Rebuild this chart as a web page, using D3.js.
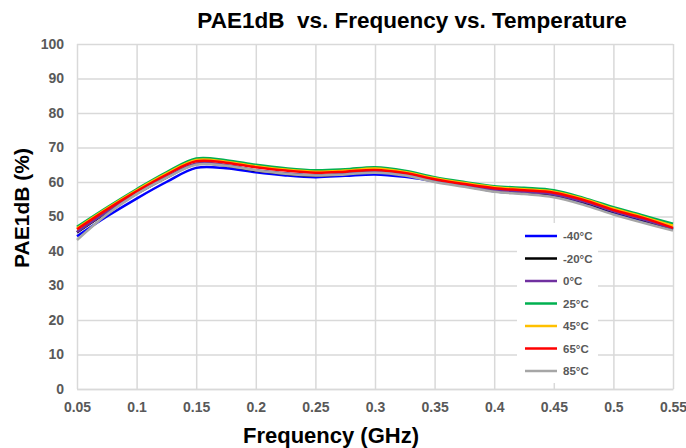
<!DOCTYPE html>
<html>
<head>
<meta charset="utf-8">
<script src="https://cdn.jsdelivr.net/npm/d3@7"></script>
<style>
  html, body { margin: 0; padding: 0; background: #fff; }
  svg { display: block; font-family: Arial, "Liberation Sans", sans-serif; }
</style>
</head>
<body>
<svg id="chart" width="686" height="448"></svg>
<script>
// Frequency points (GHz)
const freq = [0.05, 0.075, 0.1, 0.125, 0.15, 0.175, 0.2, 0.225, 0.25, 0.275, 0.3,
              0.325, 0.35, 0.375, 0.4, 0.425, 0.45, 0.475, 0.5, 0.525, 0.55];

// PAE at 1 dB compression (%) per temperature
const paeM40 = [44.3, 50.0, 55.2, 60.0, 64.1, 64.0, 62.8, 61.9, 61.4, 61.8, 62.2,
                61.5, 60.2, 58.8, 57.3, 56.7, 56.0, 53.9, 51.0, 48.7, 46.2];
const paeM20 = [45.4, 51.2, 56.6, 61.3, 65.2, 64.8, 63.3, 62.4, 61.9, 62.3, 62.9,
                62.0, 60.3, 58.9, 57.6, 57.0, 56.3, 54.2, 51.4, 49.0, 46.4];
const pae0   = [45.5, 51.3, 56.7, 61.4, 65.3, 64.9, 63.4, 62.5, 62.0, 62.4, 63.0,
                62.1, 60.4, 59.0, 57.7, 57.1, 56.4, 54.3, 51.5, 49.1, 46.5];
const pae25  = [47.0, 52.6, 57.9, 62.8, 66.8, 66.3, 65.0, 64.0, 63.4, 63.7, 64.3,
                63.3, 61.4, 60.0, 58.8, 58.3, 57.6, 55.4, 52.7, 50.3, 47.9];
const pae45  = [46.6, 52.3, 57.6, 62.4, 66.4, 65.9, 64.6, 63.6, 63.0, 63.3, 63.9,
                62.9, 61.1, 59.7, 58.5, 57.9, 57.2, 55.1, 52.3, 49.9, 47.3];
const pae65  = [46.3, 52.0, 57.3, 62.1, 66.0, 65.6, 64.3, 63.3, 62.7, 63.0, 63.5,
                62.6, 60.8, 59.4, 58.2, 57.6, 56.9, 54.8, 51.9, 49.6, 46.7];
const pae85  = [43.2, 50.6, 56.5, 61.2, 65.0, 64.7, 63.4, 62.4, 61.9, 62.2, 62.7,
                61.9, 60.0, 58.6, 57.2, 56.5, 55.6, 53.4, 50.6, 48.2, 45.9];

const seriesNames = ["-40°C", "-20°C", "0°C", "25°C", "45°C", "65°C", "85°C"];
const seriesColors = ["#0000ff", "#000000", "#7030a0", "#00b050", "#ffc000", "#ff0000", "#a6a6a6"];
const seriesValues = [paeM40, paeM20, pae0, pae25, pae45, pae65, pae85];

const xTicks = [0.05, 0.1, 0.15, 0.2, 0.25, 0.3, 0.35, 0.4, 0.45, 0.5, 0.55];
const yTicks = [0, 10, 20, 30, 40, 50, 60, 70, 80, 90, 100];

const svg = d3.select("#chart");
const plot = { left: 77, right: 673, top: 44, bottom: 389 };

const x = d3.scaleLinear().domain([0.05, 0.55]).range([plot.left, plot.right]);
const y = d3.scaleLinear().domain([0, 100]).range([plot.bottom, plot.top]);

const gridColor = "#d9d9d9";
const tickColor = "#595959";

// Gridlines
svg.append("g")
  .attr("transform", `translate(${plot.left},0)`)
  .call(d3.axisLeft(y).tickValues(yTicks).tickSize(-(plot.right - plot.left)).tickFormat(""))
  .call(g => g.select(".domain").remove())
  .call(g => g.selectAll("line").attr("stroke", gridColor).attr("stroke-width", 1.5));

svg.append("g")
  .attr("transform", `translate(0,${plot.bottom})`)
  .call(d3.axisBottom(x).tickValues(xTicks).tickSize(-(plot.bottom - plot.top)).tickFormat(""))
  .call(g => g.select(".domain").remove())
  .call(g => g.selectAll("line").attr("stroke", gridColor).attr("stroke-width", 1.5));

// Tick labels
svg.append("g")
  .attr("transform", `translate(${plot.left},0)`)
  .call(d3.axisLeft(y).tickValues(yTicks).tickSize(0).tickPadding(13).tickFormat(d3.format("d")))
  .call(g => g.select(".domain").remove())
  .call(g => g.selectAll("text")
    .attr("fill", tickColor).attr("font-size", 14).attr("font-weight", "bold")
    .attr("font-family", "Arial, 'Liberation Sans', sans-serif"));

svg.append("g")
  .attr("transform", `translate(0,${plot.bottom})`)
  .call(d3.axisBottom(x).tickValues(xTicks).tickSize(0).tickPadding(13).tickFormat(d => String(d)))
  .call(g => g.select(".domain").attr("stroke", gridColor).attr("stroke-width", 1.5))
  .call(g => g.selectAll("text")
    .attr("fill", tickColor).attr("font-size", 14).attr("font-weight", "bold")
    .attr("font-family", "Arial, 'Liberation Sans', sans-serif"));

// Curves
const line = d3.line()
  .x((d, i) => x(freq[i]))
  .y(d => y(d))
  .curve(d3.curveCatmullRom.alpha(0.5));

svg.append("g")
  .selectAll("path")
  .data(seriesValues)
  .join("path")
  .attr("d", d => line(d))
  .attr("fill", "none")
  .attr("stroke", (d, i) => seriesColors[i])
  .attr("stroke-width", 2.5)
  .attr("stroke-linejoin", "round");

// Legend
const legend = svg.append("g");
legend.append("rect")
  .attr("x", 517).attr("y", 223).attr("width", 81).attr("height", 160)
  .attr("fill", "#fff");
const rowY = d3.scaleLinear().domain([0, 6]).range([236, 371]);
const items = legend.selectAll("g.item")
  .data(seriesNames)
  .join("g")
  .attr("class", "item")
  .attr("transform", (d, i) => `translate(0,${rowY(i)})`);
items.append("line")
  .attr("x1", 525).attr("x2", 557)
  .attr("stroke", (d, i) => seriesColors[i])
  .attr("stroke-width", 2.5);
items.append("text")
  .attr("x", 563).attr("dy", "0.35em")
  .attr("fill", tickColor).attr("font-size", 11.5).attr("font-weight", "bold")
  .text(d => d);

// Titles
svg.append("text")
  .attr("x", 412).attr("y", 28)
  .attr("text-anchor", "middle")
  .attr("font-size", 22.5).attr("font-weight", "bold").attr("fill", "#000")
  .style("white-space", "pre")
  .text("PAE1dB  vs. Frequency vs. Temperature");

svg.append("text")
  .attr("x", 331).attr("y", 443)
  .attr("text-anchor", "middle")
  .attr("font-size", 22).attr("font-weight", "bold").attr("fill", "#000")
  .text("Frequency (GHz)");

svg.append("text")
  .attr("transform", "translate(29,208) rotate(-90)")
  .attr("text-anchor", "middle")
  .attr("font-size", 21).attr("font-weight", "bold").attr("fill", "#000")
  .text("PAE1dB (%)");
</script>
</body>
</html>
